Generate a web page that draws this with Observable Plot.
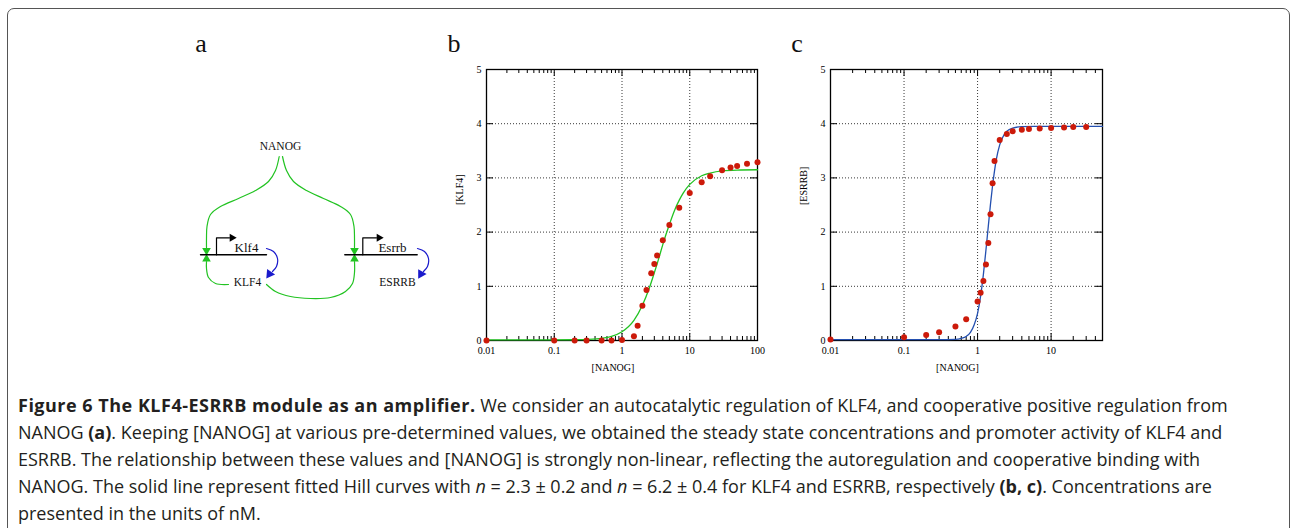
<!DOCTYPE html>
<html><head><meta charset="utf-8">
<script src="https://cdn.jsdelivr.net/npm/d3@7"></script>
<script src="https://cdn.jsdelivr.net/npm/@observablehq/plot@0.6"></script>
<style>
html,body{margin:0;padding:0;background:#fff;width:1292px;height:528px;overflow:hidden;position:relative}
#frame{position:absolute;left:7px;top:8px;width:1283px;height:600px;border:1px solid #555;border-radius:7px;box-sizing:border-box}
.panel{position:absolute}
.lab{position:absolute;width:40px;text-align:center;font-family:"Liberation Serif",serif;font-size:26px;line-height:26px;color:#111}
#caption{position:absolute;left:18px;top:392px;font-family:"Open Sans",sans-serif;font-size:18px;letter-spacing:0;line-height:27px;color:#231f20;white-space:nowrap}
#caption b{font-weight:700}
#caption b.t{letter-spacing:0.5px}
</style></head><body>
<div id="frame"></div>
<div class="lab" style="left:181px;top:31px">a</div>
<div class="lab" style="left:434px;top:31px">b</div>
<div class="lab" style="left:777px;top:31px">c</div>
<div id="pa" class="panel" style="left:180px;top:120px"></div>
<div id="pb" class="panel" style="left:430px;top:60px"></div>
<div id="pc" class="panel" style="left:774px;top:60px"></div>
<div id="caption"></div>
<script>
// ---- panel b data: KLF4 vs NANOG ----
const klf4X = [0.01,0.1,0.2,0.3,0.5,0.7,1,1.5,1.7,2,2.3,2.7,3,3.3,4,5,7,10,15,20,30,40,50,70,100];
const klf4Y = [0,0,0,0,0,0,0.01,0.08,0.27,0.64,0.93,1.24,1.41,1.57,1.85,2.13,2.45,2.72,2.92,3.03,3.14,3.19,3.22,3.26,3.29];
const klf4FitX = [0.01,0.1,0.2,0.3,0.5,0.7,1,1.5,2,2.5,3,3.5,4,5,6,7,8,10,15,20,30,50,100];
const klf4FitY = [0.012,0.012,0.015,0.02,0.04,0.075,0.16,0.37,0.65,0.95,1.25,1.52,1.77,2.14,2.41,2.59,2.72,2.88,3.04,3.09,3.13,3.145,3.15];
// ---- panel c data: ESRRB vs NANOG ----
const esrrbX = [0.01,0.1,0.2,0.3,0.5,0.7,1,1.1,1.2,1.3,1.4,1.5,1.6,1.7,2,2.5,3,4,5,7,10,15,20,30];
const esrrbY = [0.02,0.06,0.10,0.15,0.26,0.39,0.72,0.88,1.10,1.40,1.80,2.33,2.90,3.31,3.70,3.81,3.86,3.89,3.90,3.91,3.92,3.93,3.94,3.94];
const esrrbFitX = [0.01,0.1,0.3,0.5,0.6,0.7,0.8,0.9,1.0,1.1,1.2,1.3,1.4,1.5,1.6,1.7,1.8,2.0,2.2,2.5,3,4,6,10,50];
const esrrbFitY = [0.015,0.015,0.016,0.022,0.04,0.075,0.15,0.29,0.5,0.82,1.22,1.67,2.11,2.52,2.86,3.13,3.34,3.61,3.75,3.86,3.92,3.945,3.95,3.95,3.95];
// ---- axes ----
const yTicks = [0,1,2,3,4,5];
const yTickLabels = ["0","1","2","3","4","5"];
const yGrid = [1,2,3,4];
const bTicks = [0.01,0.1,1,10,100];
const bTickLabels = ["0.01","0.1","1","10","100"];
const cTicks = [0.01,0.1,1,10];
const cTickLabels = ["0.01","0.1","1","10"];
const xGrid = [0.1,1,10];
const minorMult = [2,3,4,5,6,7,8,9];

function panel(el, o) {
  const W = 340, H = 320, mL = 56, mT = 9, mB = 40, mR = o.mR;
  const pw = W - mL - mR, ph = H - mT - mB;
  const minor = [];
  for (const d of [0.01,0.1,1,10]) for (const m of minorMult) { const v = d*m; if (v < o.domain[1]) minor.push(v); }
  const tf = v => o.labels[o.ticks.indexOf(v)] ?? "";
  const yf = v => yTickLabels[yTicks.indexOf(v)] ?? "";
  const data = o.x.map((v,i)=>({x:v,y:o.y[i]}));
  const fit = o.fitX.map((v,i)=>({x:v,y:o.fitY[i]}));
  const grid = {stroke:"#222", strokeDasharray:"1,2", strokeWidth:0.9};
  const svg = Plot.plot({
    width: W, height: H, marginLeft: mL, marginRight: mR, marginTop: mT, marginBottom: mB,
    style: {fontFamily:"Liberation Serif, serif", fontSize:"10px", color:"#000", background:"transparent", overflow:"visible"},
    x: {type:"log", domain:o.domain, ticks:o.ticks, tickFormat:tf, tickSize:0, tickPadding:6, label:null},
    y: {domain:[0,5], ticks:yTicks, tickFormat:yf, tickSize:0, tickPadding:5, label:null},
    marks: [
      Plot.ruleX(xGrid, grid),
      Plot.ruleY(yGrid, grid),
      Plot.tickX(minor, {insetTop: ph-4, stroke:"#000"}),
      Plot.tickX(minor, {insetBottom: ph-4, stroke:"#000"}),
      Plot.tickX(xGrid, {insetTop: ph-7, stroke:"#000"}),
      Plot.tickX(xGrid, {insetBottom: ph-7, stroke:"#000"}),
      Plot.tickY(yGrid, {insetRight: pw-7, stroke:"#000"}),
      Plot.tickY(yGrid, {insetLeft: pw-7, stroke:"#000"}),
      Plot.frame({stroke:"#000", strokeWidth:1.3}),
      Plot.line(fit, {x:"x", y:"y", stroke:o.color, strokeWidth:1.3, curve:"monotone-x"}),
      Plot.dot(data, {x:"x", y:"y", r:3, fill:"#cc1a0a"}),
      Plot.text(["[NANOG]"], {frameAnchor:"bottom", dy:30, dx:-9, text:d=>d}),
      Plot.text([o.ylabel], {frameAnchor:"left", rotate:-90, dx:-27, text:d=>d})
    ]
  });
  document.getElementById(el).appendChild(svg);
}
panel("pb", {x:klf4X, y:klf4Y, fitX:klf4FitX, fitY:klf4FitY, color:"#22c322", domain:[0.01,100], ticks:bTicks, labels:bTickLabels, ylabel:"[KLF4]", mR:13});
panel("pc", {x:esrrbX, y:esrrbY, fitX:esrrbFitX, fitY:esrrbFitY, color:"#2450b0", domain:[0.01,50], ticks:cTicks, labels:cTickLabels, ylabel:"[ESRRB]", mR:12});

// ---- panel a: regulatory diagram (diagram coordinates) ----
const diagLabels = [
  {x:280, y:146, t:"NANOG", it:false},
  {x:246, y:247.5, t:"Klf4", it:true},
  {x:392, y:247.5, t:"Esrrb", it:true},
  {x:247, y:282, t:"KLF4", it:false},
  {x:397, y:282, t:"ESRRB", it:false}
];
const greenPaths = [
  [[278.7,156],[275,170],[268,181],[255,190],[238,198],[220,206],[210,214],[206.5,226],[206,238],[206,247]],
  [[282,156],[286,170],[293,181],[306,190],[323,198],[340,206],[350,214],[353.5,226],[354,238],[354,247]],
  [[228,284],[215,283],[208,277],[206,268],[206,261]],
  [[266,284],[275,291],[290,296],[310,298],[330,297],[345,291],[352,283],[354,272],[354,261]]
];
const greenHeads = [[206,250,180],[354,250,180],[206,258.5,0],[354,258.5,0]];
const bluePaths = [
  [[266,248],[273,251],[277,258],[276,266],[272,271]],
  [[417,248],[424,251],[428,258],[427,266],[423,271]]
];
const blueHeads = [[269,273.5,215],[420.5,273.5,210]];
const dnaLines = [[[200,254.3],[266,254.3]],[[344.3,254.3],[416.7,254.3]]];
const promoters = [[[216,254.3],[216,237.3],[229,237.3]],[[362.3,254.3],[362.3,237.3],[376,237.3]]];
const promoterHeads = [[231.5,237.3,90],[378.5,237.3,90]];

function lineMarks(paths, opts) {
  return paths.map(p => Plot.line(p, {x:d=>d[0], y:d=>d[1], ...opts}));
}
const heads = (arr, fill, r) => Plot.dot(arr, {x:d=>d[0], y:d=>d[1], rotate:d=>d[2], symbol:"triangle", r, fill, stroke:"none"});
const pa = Plot.plot({
  width:260, height:190, margin:0,
  style:{fontFamily:"Liberation Serif, serif", fontSize:"11.5px", color:"#111", background:"transparent", overflow:"visible"},
  x:{domain:[180,440], axis:null},
  y:{domain:[120,310], reverse:true, axis:null},
  marks:[
    ...lineMarks(greenPaths, {stroke:"#22c322", strokeWidth:1.2, curve:"catmull-rom"}),
    heads(greenHeads, "#22c322", 3.2),
    ...lineMarks(bluePaths, {stroke:"#1a1acc", strokeWidth:1.2, curve:"catmull-rom"}),
    heads(blueHeads, "#1a1acc", 3.6),
    ...lineMarks(dnaLines, {stroke:"#000", strokeWidth:1.4}),
    ...lineMarks(promoters, {stroke:"#000", strokeWidth:1.2}),
    heads(promoterHeads, "#000", 3),
    Plot.text(diagLabels, {x:"x", y:"y", text:"t", fontStyle:d=>d.it?"italic":"normal", fontSize:d=>d.it?13:11.5, fill:"#111"})
  ]
});
document.getElementById("pa").appendChild(pa);

// ---- caption ----
const captionLines = [
  '<b class="t">Figure 6 The KLF4-ESRRB module as an amplifier.</b> We consider an autocatalytic regulation of KLF4, and cooperative positive regulation from',
  'NANOG <b>(a)</b>. Keeping [NANOG] at various pre-determined values, we obtained the steady state concentrations and promoter activity of KLF4 and',
  'ESRRB. The relationship between these values and [NANOG] is strongly non-linear, reflecting the autoregulation and cooperative binding with',
  'NANOG. The solid line represent fitted Hill curves with <i>n</i> = 2.3 ± 0.2 and <i>n</i> = 6.2 ± 0.4 for KLF4 and ESRRB, respectively <b>(b, c)</b>. Concentrations are',
  'presented in the units of nM.'
];
document.getElementById("caption").innerHTML = captionLines.join("<br>");
</script>
</body></html>
